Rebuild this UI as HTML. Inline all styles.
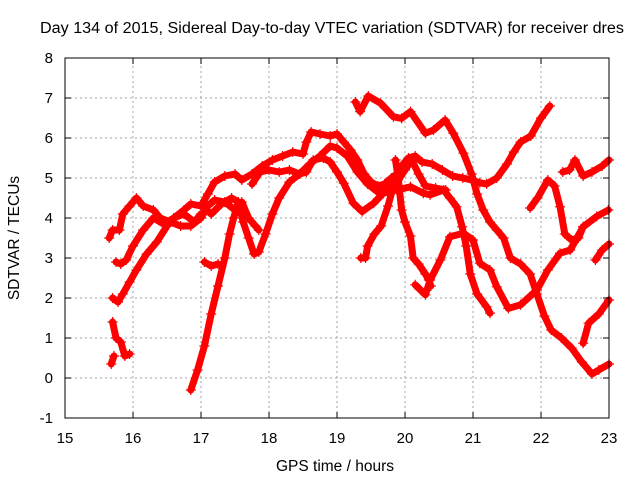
<!DOCTYPE html>
<html><head><meta charset="utf-8"><style>
body{margin:0;background:#fff}
svg{display:block;font-family:"Liberation Sans",sans-serif}
</style></head><body>
<svg id="chart" width="640" height="480" viewBox="0 0 640 480" xmlns="http://www.w3.org/2000/svg">
<rect width="640" height="480" fill="#fff"/>
<text x="332" y="33" text-anchor="middle" font-size="15.5" textLength="584" lengthAdjust="spacingAndGlyphs">Day 134 of 2015, Sidereal Day-to-day VTEC variation (SDTVAR) for receiver dres</text>
<g id="grid"></g>
<g id="series"></g>
<rect x="65" y="58" width="544" height="360" fill="none" stroke="#000" stroke-width="1"/>
<g id="ticks"></g>
<text x="335" y="471" text-anchor="middle" font-size="15.5">GPS time / hours</text>
<text x="19" y="238" text-anchor="middle" font-size="15.5" transform="rotate(-90 19 238)">SDTVAR / TECUs</text>
</svg>
<script>
const xTicks=[15,16,17,18,19,20,21,22,23];
const yTicks=[-1,0,1,2,3,4,5,6,7,8];
const trackA=[[15.65,3.5],[15.7,3.7],[15.8,3.7],[15.85,4.1],[15.95,4.3],[16.05,4.5],[16.15,4.3],[16.3,4.2],[16.4,4.0],[16.55,3.9],[16.7,3.8],[16.85,3.8],[17.0,4.0],[17.1,4.3],[17.2,4.45],[17.35,4.4],[17.5,4.2],[17.6,4.4],[17.7,4.0],[17.8,3.8],[17.85,3.7]];
const trackB=[[15.75,2.9],[15.82,2.85],[15.9,2.95],[16.0,3.3],[16.15,3.7],[16.3,4.0],[16.45,3.85],[16.6,4.0],[16.75,4.1],[16.9,3.9],[17.0,4.1]];
const trackT1=[[17.0,4.3],[17.1,4.6],[17.2,4.9],[17.35,5.05],[17.5,5.1],[17.6,4.95],[17.75,5.1],[17.9,5.3],[18.05,5.45],[18.2,5.55],[18.35,5.65],[18.5,5.6],[18.55,5.9],[18.62,6.15],[18.75,6.1],[18.9,6.05],[19.0,6.1],[19.1,5.9],[19.2,5.7],[19.3,5.45],[19.4,5.1],[19.5,4.9],[19.6,4.8],[19.7,4.85],[19.8,5.0],[19.88,5.1],[19.95,5.3],[20.05,5.5],[20.15,5.55],[20.25,5.4],[20.4,5.35],[20.55,5.2],[20.7,5.05],[20.85,5.0],[20.98,4.95],[21.1,4.88],[21.2,4.85],[21.35,5.0],[21.5,5.35],[21.6,5.65],[21.7,5.9],[21.85,6.05],[22.0,6.5],[22.13,6.8]];
const trackR1=[[19.27,6.9],[19.34,6.66],[19.46,7.05],[19.64,6.87],[19.83,6.53],[19.95,6.49],[20.08,6.66],[20.3,6.12],[20.42,6.2],[20.59,6.45],[20.71,6.12],[20.86,5.62],[20.98,5.1],[21.06,4.6],[21.15,4.2],[21.25,3.9],[21.35,3.7],[21.45,3.5],[21.55,3.0],[21.7,2.85],[21.84,2.6],[21.94,2.1],[22.05,1.55],[22.15,1.2],[22.3,1.0],[22.45,0.75],[22.6,0.4],[22.75,0.1],[22.85,0.2],[23.0,0.35]];
const trackT2=[[15.7,2.0],[15.78,1.9],[15.85,2.1],[15.95,2.4],[16.05,2.7],[16.2,3.1],[16.35,3.4],[16.5,3.8],[16.6,4.0],[16.75,4.2],[16.85,4.35],[17.0,4.3],[17.15,4.1],[17.3,4.35],[17.45,4.5],[17.55,4.4],[17.62,3.9],[17.7,3.5],[17.78,3.1],[17.85,3.15],[17.95,3.6],[18.05,4.1],[18.15,4.5],[18.3,4.9],[18.45,5.1],[18.6,5.35],[18.75,5.55],[18.9,5.8],[19.0,5.75],[19.15,5.55],[19.3,5.15],[19.45,4.85],[19.6,4.65],[19.75,4.75],[19.9,4.95],[20.0,5.2],[20.1,5.45],[20.2,5.1],[20.3,4.8],[20.45,4.75],[20.6,4.7]];
const trackC=[[17.75,4.85],[17.87,5.15],[18.0,5.2],[18.15,5.15],[18.3,5.2],[18.45,5.1],[18.55,5.15],[18.65,5.45],[18.8,5.5],[18.9,5.4],[19.0,5.15],[19.1,4.87],[19.24,4.37],[19.37,4.16],[19.54,4.37],[19.68,4.62],[19.88,4.7],[20.08,4.78],[20.27,4.62],[20.37,4.58],[20.57,4.7],[20.66,4.5],[20.76,4.28],[20.84,3.78],[20.9,3.3],[20.96,2.6],[21.06,2.1],[21.2,1.78],[21.25,1.62]];
const trackT4=[[19.35,3.0],[19.42,3.0],[19.45,3.3],[19.55,3.6],[19.65,3.8],[19.75,4.3],[19.83,4.8],[19.9,5.1],[19.98,5.35]];
const trackT5=[[19.86,5.45],[19.9,5.0],[19.95,4.2],[20.0,3.9],[20.08,3.55],[20.12,3.0],[20.2,2.85],[20.3,2.6],[20.35,2.45],[20.38,2.3]];
const trackT6=[[20.15,2.33],[20.3,2.08],[20.37,2.45],[20.52,2.95],[20.66,3.53],[20.86,3.62],[21.0,3.45],[21.1,2.87],[21.25,2.7],[21.35,2.28],[21.52,1.74],[21.7,1.83],[21.94,2.2],[22.1,2.7],[22.28,3.12],[22.43,3.2],[22.62,3.78],[22.82,4.04],[22.99,4.2]];
const trackT7=[[21.84,4.25],[21.95,4.5],[22.1,4.95],[22.2,4.8],[22.28,4.28],[22.35,3.6],[22.45,3.45],[22.55,3.5],[22.62,3.78]];
const trackT8=[[22.32,5.15],[22.42,5.2],[22.5,5.45],[22.62,5.05],[22.75,5.15],[22.9,5.3],[23.0,5.45]];
const trackT9=[[22.8,2.95],[22.9,3.2],[23.0,3.35]];
const trackT10=[[22.62,0.87],[22.7,1.37],[22.85,1.6],[23.0,1.95]];
const trackT12=[[15.7,1.4],[15.75,1.0],[15.82,0.9],[15.88,0.55],[15.95,0.6]];
const trackT13=[[15.68,0.35],[15.72,0.55]];
const trackT14=[[16.85,-0.3],[16.95,0.2],[17.05,0.8],[17.15,1.6],[17.25,2.3],[17.35,3.0],[17.42,3.6],[17.48,4.0],[17.55,4.4]];
const trackT15=[[17.05,2.9],[17.15,2.8],[17.25,2.85]];
const tracks=[trackA,trackB,trackT1,trackR1,trackT2,trackC,trackT4,trackT5,trackT6,trackT7,trackT8,trackT9,trackT10,trackT12,trackT13,trackT14,trackT15];

const NS="http://www.w3.org/2000/svg";
const X0=65,X1=609,Y0=418,Y1=58,XMIN=15,XMAX=23,YMIN=-1,YMAX=8;
function xs(v){return X0+(v-XMIN)/(XMAX-XMIN)*(X1-X0);}
function ys(v){return Y0-(v-YMIN)/(YMAX-YMIN)*(Y0-Y1);}
function mk(tag,attrs,parent){const e=document.createElementNS(NS,tag);for(const k in attrs)e.setAttribute(k,attrs[k]);parent.appendChild(e);return e;}
const grid=document.getElementById('grid'),ticks=document.getElementById('ticks'),ser=document.getElementById('series');
xTicks.forEach(t=>{
  const x=xs(t);
  if(t>XMIN&&t<XMAX){const g=mk('line',{x1:x,y1:Y0,x2:x,y2:Y1,stroke:'#a0a0a0','stroke-dasharray':'2,3'},grid);
  
  }
  const a=mk('line',{x1:x,y1:Y0,x2:x,y2:Y0-6,stroke:'#000'},ticks);
  
  
  const b=mk('line',{x1:x,y1:Y1,x2:x,y2:Y1+6,stroke:'#000'},ticks);
  
  
  const l=mk('text',{x:x,y:443,'text-anchor':'middle','font-size':15},ticks);l.textContent=t;
  
  
});
yTicks.forEach(t=>{
  const y=ys(t);
  if(t>YMIN&&t<YMAX){const g=mk('line',{x1:X0,y1:y,x2:X1,y2:y,stroke:'#a0a0a0','stroke-dasharray':'2,3'},grid);
  
  }
  const a=mk('line',{x1:X0,y1:y,x2:X0+6,y2:y,stroke:'#000'},ticks);
  
  
  const b=mk('line',{x1:X1,y1:y,x2:X1-6,y2:y,stroke:'#000'},ticks);
  
  
  const l=mk('text',{x:53,y:y+5,'text-anchor':'end','font-size':15},ticks);l.textContent=t;
  
  
});
tracks.forEach(tr=>{
  const pl=mk('polyline',{points:tr.map(p=>xs(p[0])+','+ys(p[1])).join(' '),fill:'none',stroke:'#f00','stroke-width':7,'stroke-linejoin':'round','stroke-linecap':'round'},ser);
  
  
  tr.forEach(p=>{
    const x=xs(p[0]),y=ys(p[1]);
    const m=mk('path',{d:`M${x-5},${y}H${x+5}M${x},${y-5}V${y+5}`,stroke:'#f00','stroke-width':1.2},ser);
    
    
  });
});
</script>
</body></html>
